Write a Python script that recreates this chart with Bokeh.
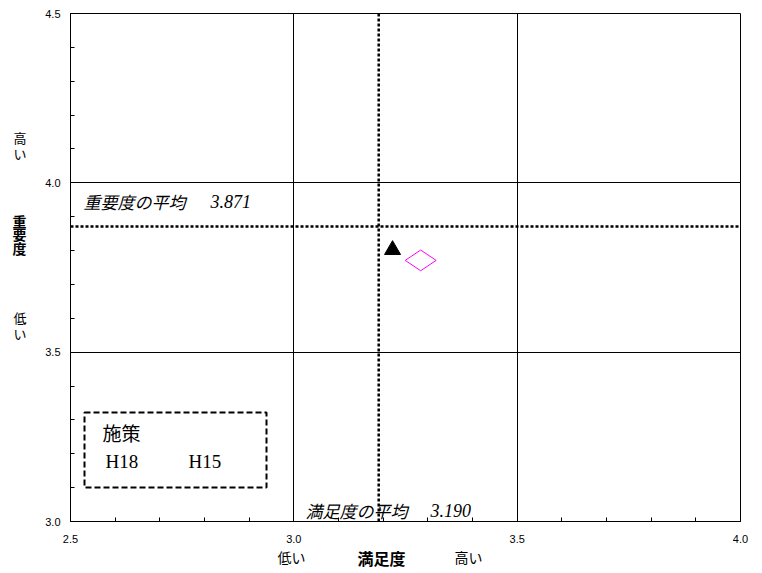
import numpy as np
from bokeh.plotting import figure
from bokeh.models import (Range1d, FixedTicker, Span, Label, BoxAnnotation,
                          NumeralTickFormatter, LinearAxis)
from bokeh.embed import file_html
from bokeh.resources import INLINE

# ---- data ----
series_names = ["H18", "H15"]
satisfaction = [3.221, 3.284]
importance = [3.802, 3.771]
mean_satisfaction = 3.190
mean_importance = 3.871
x_ticks = [2.5, 3.0, 3.5, 4.0]
y_ticks = [3.0, 3.5, 4.0, 4.5]
x_minor = [round(v, 1) for v in np.arange(2.5, 4.001, 0.1)]
y_minor = [round(v, 1) for v in np.arange(3.0, 4.501, 0.1)]
legend_title = "施策"
x_title = ["低い", "満足度", "高い"]
y_title = ["高い", "重要度", "低い"]

X0, X1, Y0, Y1 = 2.5, 4.0, 3.0, 4.5
FL, FT, FW, FH = 70, 13, 670, 508  # frame position on canvas
W, H = 754, 572


def px_x(px):
    return X0 + (px - FL) / FW * (X1 - X0)


def px_y(py):
    return Y1 - (py - FT) / FH * (Y1 - Y0)


p = figure(width=W, height=H, x_range=Range1d(X0, X1), y_range=Range1d(Y0, Y1),
           output_backend="svg", toolbar_location=None,
           min_border_left=FL, min_border_right=W - FL - FW, min_border_top=FT,
           min_border_bottom=H - FT - FH)
p.background_fill_color = "white"
p.border_fill_color = "white"
p.outline_line_color = "black"
p.outline_line_width = 1

for ax, ticks, minor in ((p.xaxis[0], x_ticks, x_minor), (p.yaxis[0], y_ticks, y_minor)):
    ax.ticker = FixedTicker(ticks=ticks, minor_ticks=minor)
    ax.formatter = NumeralTickFormatter(format="0.0")
    ax.axis_line_color = "black"
    ax.major_tick_line_color = "black"
    ax.minor_tick_line_color = "black"
    ax.major_tick_in = 5
    ax.major_tick_out = 0
    ax.minor_tick_in = 4
    ax.minor_tick_out = 0
    ax.major_label_text_font = "Liberation Sans"
    ax.major_label_text_font_size = "11px"
    ax.major_label_text_color = "black"
    ax.major_label_standoff = 10
p.xaxis[0].major_label_standoff = 13

p.grid.grid_line_color = "black"
p.grid.grid_line_width = 1
p.grid.grid_line_alpha = 1.0

JP = "Noto Sans CJK JP"

# ---- axis titles through extra axes ----
lo_x, hi_x = round(px_x(291), 3), round(px_x(468), 3)
xt = LinearAxis(ticker=FixedTicker(ticks=[lo_x, hi_x], minor_ticks=[]),
                major_label_overrides={lo_x: x_title[0], hi_x: x_title[2]},
                axis_label=x_title[1] + "\u3000\u3000\u3000")
hi_y, lo_y = round(px_y(145), 3), round(px_y(325), 3)
yt = LinearAxis(ticker=FixedTicker(ticks=[hi_y, lo_y], minor_ticks=[]),
                major_label_overrides={hi_y: "\n".join(y_title[0]), lo_y: "\n".join(y_title[2])},
                axis_label="\n".join(y_title[1]) + "\n" * 5)
for ax in (xt, yt):
    ax.axis_line_color = None
    ax.major_tick_line_color = None
    ax.minor_tick_line_color = None
    ax.major_label_text_font = JP
    ax.major_label_text_color = "black"
    ax.axis_label_text_font = JP
    ax.axis_label_text_font_style = "bold"
    ax.axis_label_text_color = "black"
xt.major_label_text_font_size = "14px"
xt.major_label_standoff = -5
xt.major_label_text_line_height = 0.8
xt.axis_label_text_font_size = "16px"
xt.axis_label_text_line_height = 0.8
xt.axis_label_standoff = -24
yt.major_label_text_font_size = "13px"
yt.major_label_standoff = 10
yt.major_label_text_line_height = 0.85
yt.axis_label_text_font_size = "14px"
yt.axis_label_text_line_height = 0.665
yt.axis_label_orientation = "horizontal"
yt.axis_label_standoff = -16
p.add_layout(xt, "below")
p.add_layout(yt, "left")

# mean lines
p.add_layout(Span(location=mean_satisfaction, dimension="height", line_color="black",
                  line_width=2.5, line_dash="3 2"))
p.add_layout(Span(location=mean_importance, dimension="width", line_color="black",
                  line_width=2.5, line_dash="3 2"))

# points
p.scatter([satisfaction[0]], [importance[0]], marker="triangle", size=16,
          fill_color="black", line_color="black")
p.scatter([satisfaction[1]], [importance[1]], marker="diamond", size=31, angle=np.pi / 2,
          fill_color=None, line_color="#FF00FF", line_width=1)

# legend box
p.add_layout(BoxAnnotation(left=px_x(84), right=px_x(266), top=px_y(412), bottom=px_y(487),
                           fill_alpha=0, line_color="black", line_alpha=1.0, line_width=2,
                           line_dash="6 3"))


def lab(text, x, y, font=JP, size="14px", style="normal", align="center"):
    p.add_layout(Label(x=px_x(x), y=px_y(y), text=text, text_font=font, text_font_size=size,
                       text_font_style=style, text_align=align, text_baseline="middle",
                       text_color="black"))


lab(legend_title, 102, 432, size="19px", align="left")
lab(series_names[0], 105, 461, font="Liberation Serif", size="19px", align="left")
lab(series_names[1], 188, 461, font="Liberation Serif", size="19px", align="left")

# mean annotations
lab("重要度の平均", 83, 201, size="17px", style="italic", align="left")
lab(f"{mean_importance:.3f}", 210, 201, font="Liberation Serif", size="18px", style="italic", align="left")
lab("満足度の平均", 305, 510, size="17px", style="italic", align="left")
lab(f"{mean_satisfaction:.3f}", 430, 510, font="Liberation Serif", size="18px", style="italic", align="left")

open("out.html", "w").write(file_html(p, INLINE))
